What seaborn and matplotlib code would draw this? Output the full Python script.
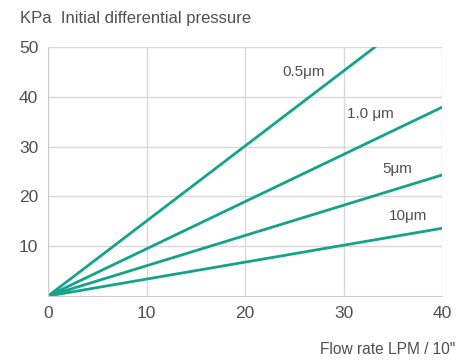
import pandas as pd
import matplotlib
matplotlib.use("Agg")
import matplotlib.pyplot as plt
import seaborn as sns

# data: straight lines from the origin
sizes = ["0.5μm", "1.0 μm", "5μm", "10μm"]
x_end = [33.2, 40, 40, 40]
y_end = [50, 37.9, 24.3, 13.6]
label_x = [25.9, 32.7, 35.4, 36.5]
label_y = [45.0, 36.5, 25.5, 16.0]

rows = []
for s, xe, ye in zip(sizes, x_end, y_end):
    rows.append({"size": s, "flow": 0, "kpa": 0})
    rows.append({"size": s, "flow": xe, "kpa": ye})
df = pd.DataFrame(rows)

sns.set_style("whitegrid")
plt.rcParams["font.family"] = ["Liberation Sans", "DejaVu Sans"]

teal = "#14a28a"
grey_text = "#505050"

fig = plt.figure(figsize=(4.62, 3.61), dpi=100)
ax = fig.add_axes([0.104, 0.18, 0.853, 0.69])

sns.lineplot(data=df, x="flow", y="kpa", hue="size",
             palette=[teal] * len(sizes), linewidth=2, legend=False, ax=ax)

for s, lx, ly in zip(sizes, label_x, label_y):
    ax.text(lx, ly, s, ha="center", va="center", fontsize=11, color=grey_text)

ax.set_xlim(0, 40)
ax.set_ylim(0, 50)
ax.set_xticks([0, 10, 20, 30, 40])
ax.set_yticks([10, 20, 30, 40, 50])
ax.grid(True, color="#d9d9d9", linewidth=1)
for side in ["top", "right"]:
    ax.spines[side].set_visible(False)
for side in ["left", "bottom"]:
    ax.spines[side].set_color("#cccccc")
ax.tick_params(axis="both", length=0, labelsize=12.5, labelcolor=grey_text, pad=7)
ax.set_xlabel("")
ax.set_ylabel("")

fig.text(20 / 462, 1 - 18 / 361, "KPa  Initial differential pressure",
         ha="left", va="center", fontsize=12, color=grey_text)
fig.text(455 / 462, 1 - 350 / 361, "Flow rate LPM / 10\"",
         ha="right", va="center", fontsize=11.2, color=grey_text)

fig.savefig("out.png", dpi=100)
